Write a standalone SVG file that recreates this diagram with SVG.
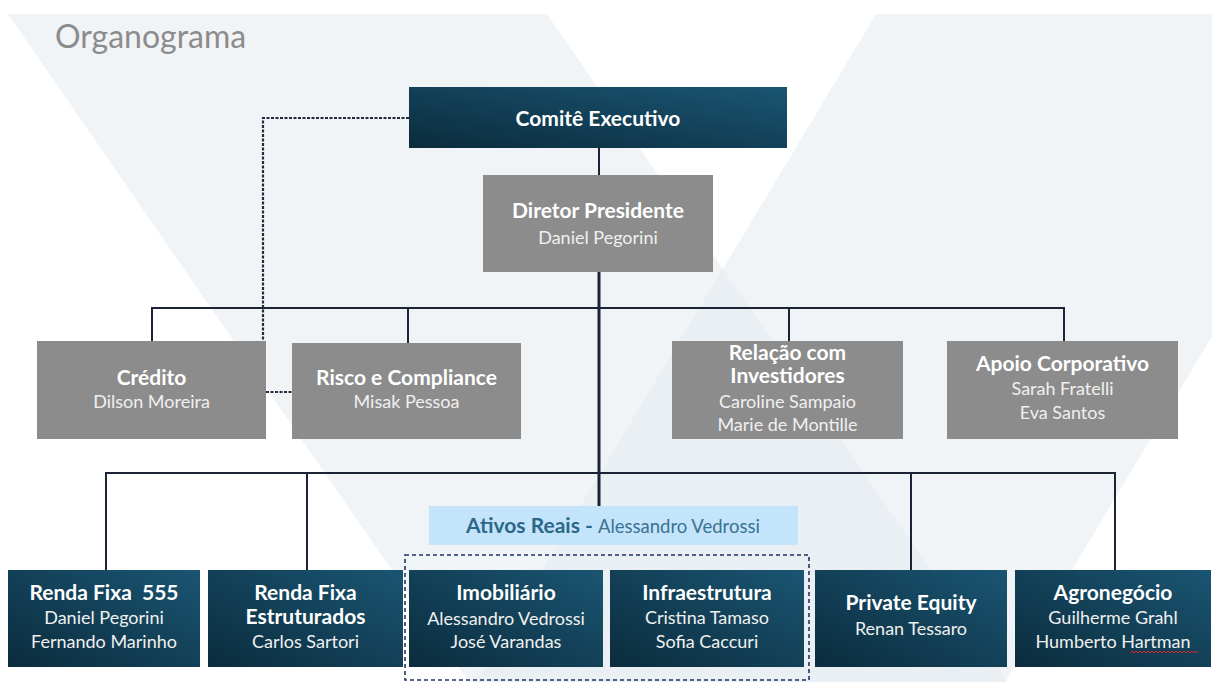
<svg xmlns="http://www.w3.org/2000/svg" width="1215" height="682" viewBox="0 0 1215 682">
  <defs>
    <linearGradient id="dark" x1="0" y1="1" x2="1" y2="0">
      <stop offset="0" stop-color="#0b2c3d"/>
      <stop offset="1" stop-color="#1a5572"/>
    </linearGradient>
    <clipPath id="bgclip">
      <rect x="5" y="14" width="1207" height="668"/>
    </clipPath>
    <style>
      .t { font-family: Lato, "Open Sans", "Liberation Sans", sans-serif; text-anchor: middle; fill: #ffffff; }
      .h { font-weight: bold; font-size: 21px; }
      .n { font-weight: normal; font-size: 18px; fill: #f0f0f0; }
      .dk { fill: url(#dark); }
      .gr { fill: #8c8c8c; }
      .ln { stroke: #1c2335; stroke-width: 2; fill: none; }
      .trunk { stroke: #1c2335; stroke-width: 3; fill: none; }
      .dash { stroke: #232a3d; stroke-width: 2.2; stroke-dasharray: 3 1.5; fill: none; }
      .band { fill: #e3e9ef; fill-opacity: 0.5; }
    </style>
  </defs>

  <rect x="0" y="0" width="1215" height="682" fill="#ffffff"/>

  <g id="background" clip-path="url(#bgclip)">
    <polygon class="band" points="8,14 547,14 1008,682 469,682"/>
    <polygon class="band" points="876,14 1405,14 1005,682 475,682"/>
  </g>

  <text x="55" y="48" style="font-family: Lato, 'Liberation Sans', sans-serif; font-size: 32px; fill: #8c8c8c;">Organograma</text>

  <g id="connectors">
    <line class="ln" x1="599" y1="148" x2="599" y2="175"/>
    <line class="trunk" x1="599" y1="272" x2="599" y2="506"/>
    <polyline class="ln" points="152,341 152,308 1064,308 1064,341"/>
    <line class="ln" x1="408" y1="308" x2="408" y2="343"/>
    <line class="ln" x1="789" y1="308" x2="789" y2="341"/>
    <polyline class="ln" points="106,570 106,473 1115,473 1115,570"/>
    <line class="ln" x1="307" y1="473" x2="307" y2="570"/>
    <line class="ln" x1="911" y1="473" x2="911" y2="570"/>
    <polyline class="dash" points="409,118 263,118 263,341"/>
    <line class="dash" x1="266" y1="392" x2="292" y2="392"/>
    <rect x="405" y="555" width="404" height="125" fill="none" stroke="#1f3566" stroke-width="1.6" stroke-dasharray="4 3"/>
  </g>

  <g id="comite">
    <rect class="dk" x="409" y="87" width="378" height="61"/>
    <text class="t h" x="598" y="126">Comitê Executivo</text>
  </g>

  <g id="diretor">
    <rect class="gr" x="483" y="175" width="230" height="97"/>
    <text class="t h" x="598" y="218">Diretor Presidente</text>
    <text class="t n" x="598" y="244">Daniel Pegorini</text>
  </g>

  <g id="credito">
    <rect class="gr" x="37" y="341" width="229" height="98"/>
    <text class="t h" x="151.5" y="385">Crédito</text>
    <text class="t n" x="151.5" y="408">Dilson Moreira</text>
  </g>

  <g id="risco">
    <rect class="gr" x="292" y="343" width="229" height="96"/>
    <text class="t h" x="406.5" y="385">Risco e Compliance</text>
    <text class="t n" x="406.5" y="408">Misak Pessoa</text>
  </g>

  <g id="relacao">
    <rect class="gr" x="672" y="341" width="231" height="98"/>
    <text class="t h" x="787.5" y="360">Relação com</text>
    <text class="t h" x="787.5" y="383">Investidores</text>
    <text class="t n" x="787.5" y="408">Caroline Sampaio</text>
    <text class="t n" x="787.5" y="431">Marie de Montille</text>
  </g>

  <g id="apoio">
    <rect class="gr" x="947" y="341" width="231" height="98"/>
    <text class="t h" x="1062.5" y="371">Apoio Corporativo</text>
    <text class="t n" x="1062.5" y="395">Sarah Fratelli</text>
    <text class="t n" x="1062.5" y="419">Eva Santos</text>
  </g>

  <g id="ativos">
    <rect x="429" y="506" width="369" height="39" fill="#c3e4fb"/>
    <text class="t" x="613" y="533" style="fill:#2b6888;"><tspan style="font-weight:bold; font-size:21px;">Ativos Reais - </tspan><tspan style="font-size:18.5px; fill:#3a7393;">Alessandro Vedrossi</tspan></text>
  </g>

  <g id="renda555">
    <rect class="dk" x="8" y="570" width="192" height="97"/>
    <text class="t h" x="104" y="600">Renda Fixa&#160; 555</text>
    <text class="t n" x="104" y="624">Daniel Pegorini</text>
    <text class="t n" x="104" y="648">Fernando Marinho</text>
  </g>

  <g id="rendaestruturados">
    <rect class="dk" x="208" y="570" width="195" height="97"/>
    <text class="t h" x="305.5" y="600">Renda Fixa</text>
    <text class="t h" x="305.5" y="624">Estruturados</text>
    <text class="t n" x="305.5" y="648">Carlos Sartori</text>
  </g>

  <g id="imobiliario">
    <rect class="dk" x="409" y="570" width="194" height="97"/>
    <text class="t h" x="506" y="600">Imobiliário</text>
    <text class="t n" x="506" y="625">Alessandro Vedrossi</text>
    <text class="t n" x="506" y="648">José Varandas</text>
  </g>

  <g id="infraestrutura">
    <rect class="dk" x="610" y="570" width="194" height="97"/>
    <text class="t h" x="707" y="600">Infraestrutura</text>
    <text class="t n" x="707" y="624">Cristina Tamaso</text>
    <text class="t n" x="707" y="648">Sofia Caccuri</text>
  </g>

  <g id="privateequity">
    <rect class="dk" x="815" y="570" width="192" height="97"/>
    <text class="t h" x="911" y="610">Private Equity</text>
    <text class="t n" x="911" y="635">Renan Tessaro</text>
  </g>

  <g id="agronegocio">
    <rect class="dk" x="1015" y="570" width="196" height="97"/>
    <text class="t h" x="1113" y="600">Agronegócio</text>
    <text class="t n" x="1113" y="624">Guilherme Grahl</text>
    <text class="t n" x="1113" y="648">Humberto Hartman</text>
    <path d="M1130,653 l2,-2 l2,2 l2,-2 l2,2 l2,-2 l2,2 l2,-2 l2,2 l2,-2 l2,2 l2,-2 l2,2 l2,-2 l2,2 l2,-2 l2,2 l2,-2 l2,2 l2,-2 l2,2 l2,-2 l2,2 l2,-2 l2,2 l2,-2 l2,2 l2,-2 l2,2 l2,-2 l2,2 l2,-2 l2,2 l2,-2 l2,2" fill="none" stroke="#d8262c" stroke-width="1"/>
  </g>
</svg>
